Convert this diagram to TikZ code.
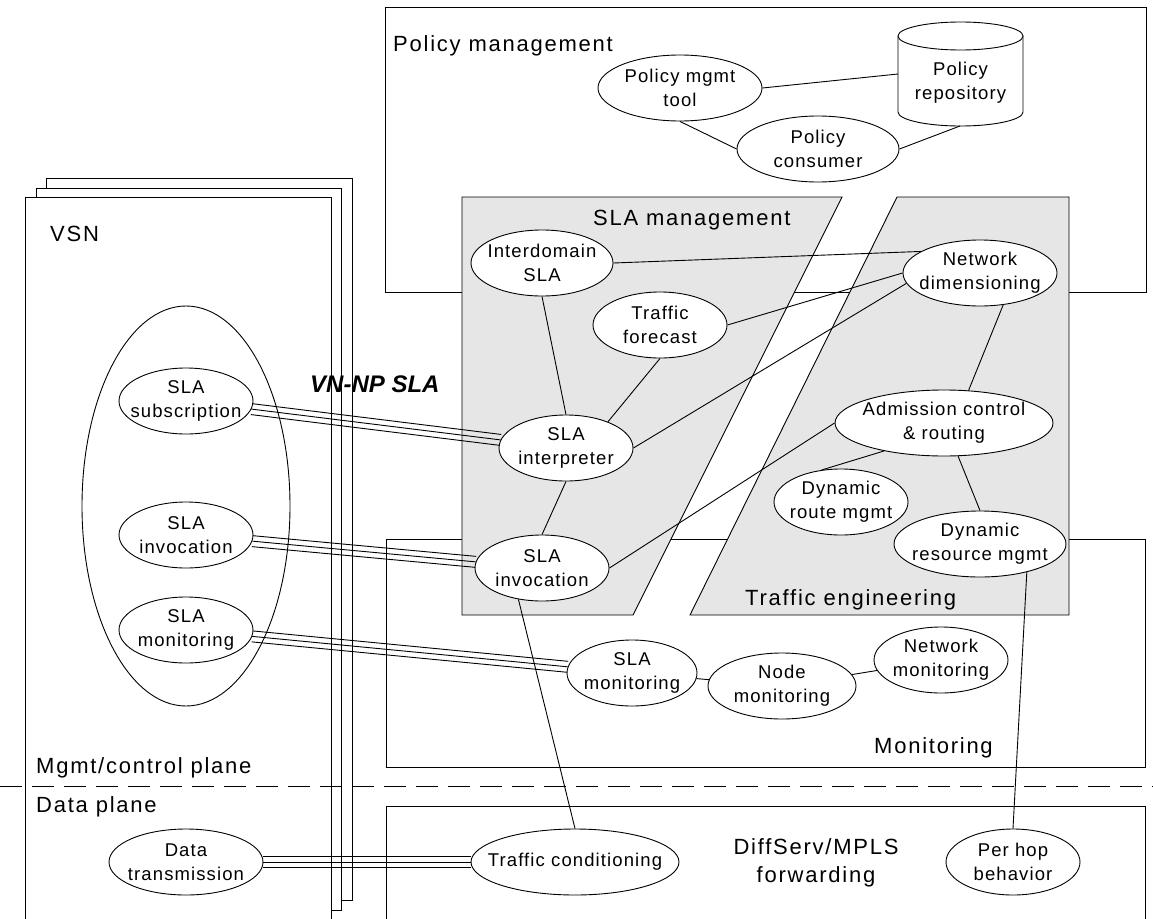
\documentclass[tikz,border=0pt]{standalone}
\usepackage{fontspec}
\setmainfont{Liberation Sans}[LetterSpace=6]
\usetikzlibrary{shapes.geometric,calc}
\definecolor{slagray}{HTML}{E6E6E6}
\newcommand\mynodefont{\fontsize{18.5}{24}\selectfont}
\newcommand\mysecfont{\fontsize{22}{28}\selectfont\addfontfeature{LetterSpace=8}}
\newcommand\tripline[2]{%
  \path (#1) -- (#2) coordinate[pos=0] (tA) coordinate[pos=1] (tB);
  \draw[ln] (tA) -- (tB);
  \draw[ln] ($(tA)!5.5pt!90:(tB)$) -- ($(tB)!5.5pt!-90:(tA)$);
  \draw[ln] ($(tA)!5.5pt!-90:(tB)$) -- ($(tB)!5.5pt!90:(tA)$);
}
\tikzset{
  ln/.style={line width=0.9pt},
  ell/.style={ellipse, draw, fill=white, inner sep=0pt, line width=0.9pt},
  E/.style 2 args={ell, minimum width=#1pt, minimum height=#2pt},
  lbl/.style={font=\mynodefont, align=center, inner sep=0pt},
  sec/.style={font=\mysecfont, inner sep=0pt, anchor=base west},
  box/.style={draw, fill=white, line width=0.9pt},
  grayshape/.style={draw, fill=slagray, line width=0.9pt},
}
\begin{document}
\begin{tikzpicture}[x=1pt,y=-1pt]
\useasboundingbox (0,0) rectangle (1153,918);
% VSN pages
\draw[box] (46,178) rectangle (352,900);
\draw[box] (36,188) rectangle (341,910);
\draw[box] (25,197) rectangle (331,940);
% dashed separation
\draw[ln, dash pattern=on 22pt off 10pt] (0,786) -- (1153,786);
% big ellipse in VSN
\node[E={208}{400}, fill=none] (vsnell) at (186,506) {};
% boxes
\draw[box] (385,7) rectangle (1146,292);
\draw[box] (386,539) rectangle (1145,767);
\draw[box] (386,806) rectangle (1145,940);
% gray shapes
\draw[grayshape] (462,197) -- (842,197) -- (633,615) -- (462,615) -- cycle;
\draw[grayshape] (897,197) -- (1069,197) -- (1069,615) -- (690,615) -- cycle;
% section labels
\node[sec] (lvsn) at (50,241) {VSN};
\node[sec] (lpol) at (393,51) {Policy management};
\node[sec] (lsla) at (593,225) {SLA management};
\node[sec] (lte) at (745,605) {Traffic engineering};
\node[sec] (lmon) at (874,753) {Monitoring};
\node[sec] (lmgmt) at (36,773) {Mgmt/control plane};
\node[sec] (ldata) at (36,812) {Data plane};
\node[font=\mysecfont, align=center, inner sep=0pt] (ldiff) at (816,863) {DiffServ/MPLS\\forwarding};
\node[inner sep=0pt, anchor=base west, font=\fontsize{24}{28}\selectfont\bfseries\itshape\addfontfeature{LetterSpace=0}] (lvnnp) at (310,392) {VN-NP SLA};
% cylinder
\draw[ln, fill=white] (898,36) -- (898,112) arc[start angle=180, end angle=0, x radius=62.5, y radius=14] -- (1023,36);
\draw[ln, fill=white] (960.5,36) ellipse[x radius=62.5, y radius=14];
\node[lbl] (repo) at (960.5,83) {Policy\\repository};
\coordinate (repoW) at (898,74);
\coordinate (repoS) at (960,126);
% nodes
\node[E={164}{66}, label={[lbl]center:Policy mgmt\\tool}] (tool) at (680,88) {};
\node[E={162}{66}, label={[lbl]center:Policy\\consumer}] (cons) at (818,149) {};
\node[E={142}{66}, label={[lbl]center:Interdomain\\SLA}] (inter) at (542,263) {};
\node[E={134}{66}, label={[lbl]center:Traffic\\forecast}] (tf) at (660,325) {};
\node[E={154}{66}, label={[lbl]center:Network\\dimensioning}] (netdim) at (980,273) {};
\node[E={134}{66}, label={[lbl]center:SLA\\interpreter}] (interp) at (566,448) {};
\node[E={134}{66}, label={[lbl]center:SLA\\invocation}] (inv) at (542,568) {};
\node[E={218}{66}, label={[lbl]center:Admission control\\\& routing}] (adm) at (944,423) {};
\node[E={134}{66}, label={[lbl]center:Dynamic\\route mgmt}] (route) at (841,502) {};
\node[E={172}{66}, label={[lbl]center:Dynamic\\resource mgmt}] (res) at (980,544) {};
\node[E={130}{66}, label={[lbl]center:SLA\\monitoring}] (smon) at (632,673) {};
\node[E={148}{66}, label={[lbl]center:Node\\monitoring}] (nmon) at (782,686) {};
\node[E={134}{66}, label={[lbl]center:Network\\monitoring}] (netmon) at (941,660) {};
\node[E={134}{66}, label={[lbl]center:SLA\\subscription}] (vsub) at (186,401) {};
\node[E={134}{66}, label={[lbl]center:SLA\\invocation}] (vinv) at (186,535) {};
\node[E={134}{66}, label={[lbl]center:SLA\\monitoring}] (vmon) at (186,630) {};
\node[E={154}{66}, label={[lbl]center:Data\\transmission}] (dtx) at (186,862) {};
\node[E={208}{66}, label={[lbl]center:Traffic conditioning}] (tc) at (575,862) {};
\node[E={134}{66}, label={[lbl]center:Per hop\\behavior}] (phb) at (1013,862) {};
% connectors
\draw[ln] (tool.east) -- (repoW);
\draw[ln] (tool.south) -- (cons.west);
\draw[ln] (cons.east) -- (repoS);
\draw[ln] (inter.east) -- (netdim.160);
\draw[ln] (tf.east) -- (netdim.west);
\draw[ln] (interp.east) -- (netdim.188);
\draw[ln] (inter.south) -- (interp.north);
\draw[ln] (tf.south) -- (interp.32);
\draw[ln] (interp.south) -- (inv.north);
\draw[ln] (inv.east) -- (adm.west);
\draw[ln] (netdim.-54) -- (adm.53);
\draw[ln] (adm.-155) -- (route.121);
\draw[ln] (adm.-67) -- (res.north);
\draw[ln] (inv.-127) -- (tc.north);
\draw[ln] (res.-31) -- (phb.north);
\draw[ln] (smon) -- (nmon);
\draw[ln] (nmon) -- (netmon);
% triple lines
\tripline{vsub}{interp}
\tripline{vinv}{inv}
\tripline{vmon}{smon}
\tripline{dtx}{tc}
\end{tikzpicture}
\end{document}
